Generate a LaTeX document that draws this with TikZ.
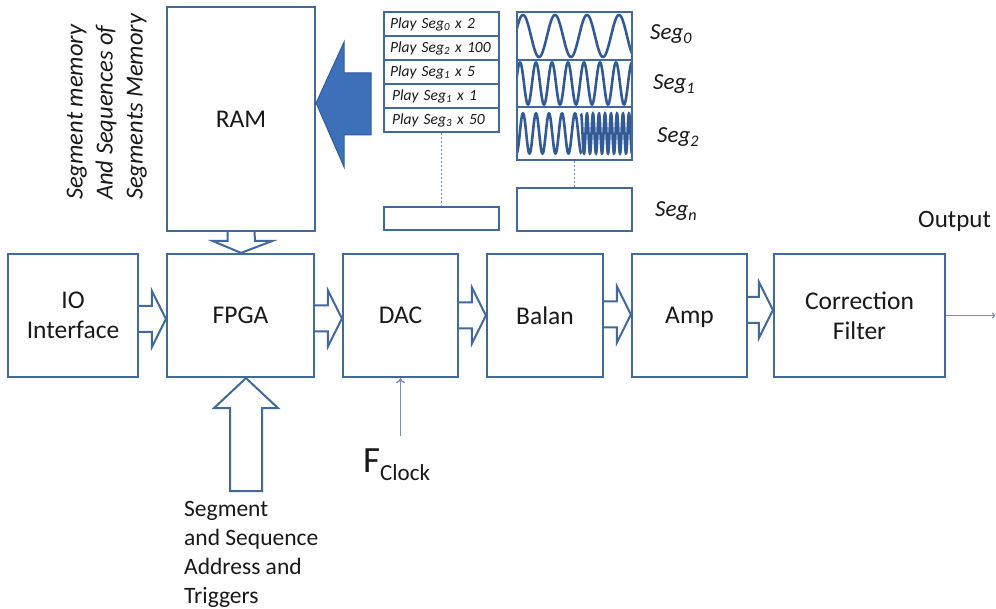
\documentclass[tikz,border=0pt]{standalone}
\usepackage{fontspec}
\setmainfont{Carlito}
\usetikzlibrary{arrows.meta,calc}
\definecolor{boxc}{RGB}{65,105,155}
\definecolor{thinc}{RGB}{115,145,185}
\definecolor{wavec}{RGB}{50,90,150}
\definecolor{bluef}{RGB}{62,112,185}
\definecolor{blued}{RGB}{45,90,160}
\definecolor{txtc}{RGB}{25,25,25}
\newcommand\boxfont{\fontsize{25.5}{30}\selectfont}
\newcommand\rowfont{\fontsize{15.5}{18}\selectfont\itshape}
\newcommand\segfont{\fontsize{23}{26}\selectfont\itshape}
\begin{document}
\begin{tikzpicture}[x=1pt,y=-1pt,
  box/.style={draw=boxc, line width=2.2pt, fill=white, inner sep=0pt, align=center, font=\boxfont, text=txtc},
  fat/.style={draw=boxc, line width=2pt, fill=white, line join=miter},
  listrow/.style={draw=boxc, line width=2pt, fill=white, minimum width=115pt, minimum height=24pt, text width=103pt, inner xsep=6pt, inner ysep=0pt, align=left, font=\rowfont, text=txtc},
  wbox/.style={draw=boxc, line width=2.2pt, minimum width=115pt, inner sep=0pt},
  wave/.style={draw=wavec, line width=2.6pt},
  dotc/.style={draw=thinc, line width=1.2pt, dash pattern=on 2pt off 2pt},
  thinl/.style={draw=thinc, line width=1.3pt},
  seglbl/.style={anchor=base west, inner sep=0pt, font=\segfont, text=txtc}]
\useasboundingbox (0,0) rectangle (996,609);
\fill[white] (0,0) rectangle (996,609);

% main boxes
\node[box, minimum width=130pt, minimum height=123pt] (io) at (73,315.5) {IO\\Interface};
\node[box, minimum width=147pt, minimum height=123pt] (fpga) at (240.5,315.5) {FPGA};
\node[box, minimum width=148pt, minimum height=224pt, text depth=-4pt] (ram) at (241,119) {RAM};
\node[box, minimum width=115pt, minimum height=123pt] (dac) at (400.5,315.5) {DAC};
\node[box, minimum width=116pt, minimum height=123pt] (balan) at (545,315.5) {Balan};
\node[box, minimum width=115pt, minimum height=123pt, text depth=0pt] (amp) at (689.5,315.5) {Amp};
\node[box, minimum width=171pt, minimum height=123pt] (cf) at (859.5,315.5) {Correction\\Filter};

% horizontal fat arrows
\newcommand\fatright[3]{%
  \draw[fat] ([yshift=#3+13pt]#1.east) -- ([xshift=-14pt,yshift=#3+13pt]#2.west) -- ([xshift=-14pt,yshift=#3+28pt]#2.west) -- ([yshift=#3]#2.west) -- ([xshift=-14pt,yshift=#3-28pt]#2.west) -- ([xshift=-14pt,yshift=#3-13pt]#2.west) -- ([yshift=#3-13pt]#1.east);}
\fatright{io}{fpga}{-3.5pt}
\fatright{fpga}{dac}{-3pt}
\fatright{dac}{balan}{0pt}
\fatright{balan}{amp}{1pt}
\fatright{amp}{cf}{5.5pt}

% RAM -> FPGA
\draw[fat] ([xshift=-13.5pt]ram.south) -- ([xshift=-13pt,yshift=12pt]fpga.north) -- ([xshift=-28pt,yshift=12pt]fpga.north) -- ([xshift=0.5pt]fpga.north) -- ([xshift=32pt,yshift=12pt]fpga.north) -- ([xshift=14.5pt,yshift=12pt]fpga.north) -- ([xshift=13.5pt]ram.south);

% triggers -> FPGA
\coordinate (trig) at (246,491);
\draw[fat] ([xshift=-16pt]trig) -- ([xshift=-10.5pt,yshift=-30pt]fpga.south) -- ([xshift=-26.5pt,yshift=-30pt]fpga.south) -- ([xshift=5.5pt]fpga.south) -- ([xshift=37.5pt,yshift=-30pt]fpga.south) -- ([xshift=21.5pt,yshift=-30pt]fpga.south) -- ([xshift=16pt]trig) -- cycle;
\node[anchor=north west, inner sep=0pt, align=left, font=\fontsize{23.5}{29}\selectfont, text=txtc] (trigtxt) at (184,501) {Segment\\and Sequence\\Address and\\Triggers};

% rotated label
\node[rotate=90, anchor=south west, inner sep=0pt, align=left, font=\fontsize{24.5}{30}\selectfont\itshape, text=txtc] (memlbl) at (147,200) {Segment memory\\And Sequences of\\Segments Memory};

% big blue arrow into RAM
\draw[draw=blued, fill=bluef, line width=1pt, line join=miter] ([yshift=16pt]ram.east) -- ([xshift=28pt,yshift=77pt]ram.east) -- ([xshift=28pt,yshift=46pt]ram.east) -- ([xshift=55pt,yshift=46pt]ram.east) -- ([xshift=55pt,yshift=-16pt]ram.east) -- ([xshift=28pt,yshift=-16pt]ram.east) -- ([xshift=28pt,yshift=-48pt]ram.east) -- cycle;

% play list
\node[listrow] (p0) at (441.5,24) {Play Seg\textsubscript{0} x 2};
\node[listrow] (p1) at (441.5,48) {Play Seg\textsubscript{2} x 100};
\node[listrow] (p2) at (441.5,72) {Play Seg\textsubscript{1} x 5};
\node[listrow] (p3) at (441.5,96) {\hspace{2pt}Play Seg\textsubscript{1} x 1};
\node[listrow] (p4) at (441.5,120) {\hspace{2pt}Play Seg\textsubscript{3} x 50};
\node[listrow, minimum height=23pt] (pn) at (441.5,218.5) {};
\draw[dotc] (p4.south) -- (pn.north);

% waves
\begin{scope}
\clip (517,12) rectangle (632,60);
\draw[wave] plot[domain=-0.6:3.8,samples=300,smooth] ({523+32*\x},{36-21*cos(360*\x)});
\end{scope}
\begin{scope}
\clip (517,60) rectangle (632,107);
\draw[wave] plot[domain=-1:8,samples=400,smooth] ({520+16*\x},{83.5-21*cos(360*\x)});
\end{scope}
\begin{scope}
\clip (517,107) rectangle (632,160);
\draw[wave] plot[domain=-1:4.5,samples=300,smooth] ({523+13*\x},{133.5-20*cos(360*\x)});
\draw[wave] plot[domain=0:10.5,samples=500,smooth] ({581+6*\x},{133.5-20*cos(360*\x)});
\end{scope}
\node[wbox, minimum height=48pt] (w0) at (574.5,36) {};
\node[wbox, minimum height=47pt] (w1) at (574.5,83.5) {};
\node[wbox, minimum height=53pt] (w2) at (574.5,133.5) {};
\node[wbox, minimum height=43pt, fill=white] (wn) at (574.5,209.5) {};
\draw[dotc] (w2.south) -- (wn.north);

\node[seglbl] (s0) at (650,40) {Seg\textsubscript{0}};
\node[seglbl] (s1) at (653,90) {Seg\textsubscript{1}};
\node[seglbl] (s2) at (657,143) {Seg\textsubscript{2}};
\node[seglbl] (sn) at (655,217) {Seg\textsubscript{n}};

% clock
\node[anchor=base west, inner sep=0pt, text=txtc] (fclk) at (363,472) {\fontsize{37}{40}\selectfont F\raisebox{-8pt}{\fontsize{23}{26}\selectfont Clock}};
\coordinate (clkfrom) at (400.5,436);
\draw[thinl, -{To[length=5pt,width=9pt]}] (clkfrom) -- (dac.south);

% output
\node[anchor=base west, inner sep=0pt, font=\fontsize{25}{30}\selectfont, text=txtc] (outlbl) at (918,228) {Output};
\coordinate (outend) at (995,315.5);
\draw[thinl, -{To[length=3pt,width=6pt]}] (cf.east) -- (outend);
\end{tikzpicture}
\end{document}
